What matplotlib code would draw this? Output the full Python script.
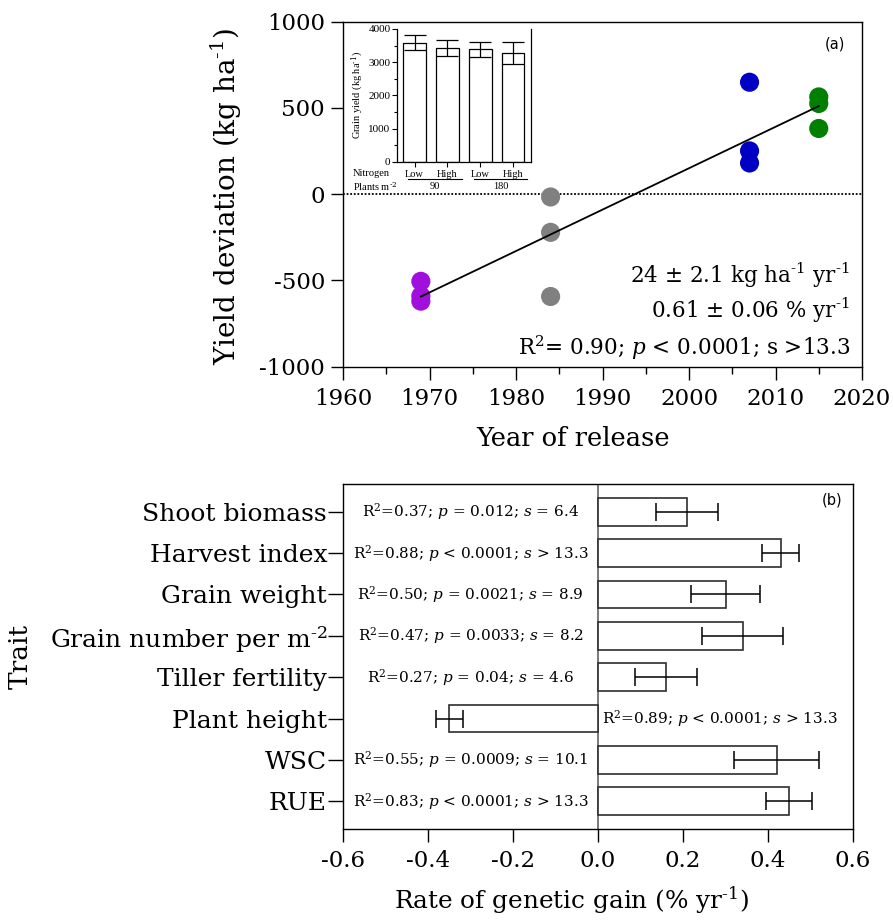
import numpy as np
import matplotlib
matplotlib.use("Agg")
import matplotlib.pyplot as plt
import matplotlib.transforms as mtransforms
from matplotlib.ticker import MultipleLocator

plt.rcParams['font.family'] = ['DejaVu Serif']
plt.rcParams['mathtext.fontset'] = 'dejavuserif'
plt.rcParams['axes.unicode_minus'] = False

# ---------------- data: panel (a) ----------------
purple_year = [1969, 1969, 1969]
purple_dev = [-505, -590, -620]
gray_year = [1984, 1984, 1984]
gray_dev = [-16, -221, -593]
blue_year = [2007, 2007, 2007]
blue_dev = [649, 251, 181]
green_year = [2015, 2015, 2015]
green_dev = [564, 526, 381]

# inset
inset_groups = ["Low", "High", "Low", "High"]
inset_yield = [3590, 3425, 3390, 3285]
inset_err = [235, 250, 225, 335]
plant_density = ["90", "180"]

# ---------------- data: panel (b) ----------------
traits = ["Shoot biomass", "Harvest index", "Grain weight", "Grain number per m$^{\\text{-2}}$",
          "Tiller fertility", "Plant height", "WSC", "RUE"]
gain = [0.21, 0.43, 0.30, 0.34, 0.16, -0.35, 0.42, 0.45]
gain_err = [0.073, 0.044, 0.081, 0.095, 0.072, 0.032, 0.100, 0.054]
stats = [r"R$^2$=0.37; $p$ = 0.012; $s$ = 6.4",
         r"R$^2$=0.88; $p$ < 0.0001; $s$ > 13.3",
         r"R$^2$=0.50; $p$ = 0.0021; $s$ = 8.9",
         r"R$^2$=0.47; $p$ = 0.0033; $s$ = 8.2",
         r"R$^2$=0.27; $p$ = 0.04; $s$ = 4.6",
         r"R$^2$=0.89; $p$ < 0.0001; $s$ > 13.3",
         r"R$^2$=0.55; $p$ = 0.0009; $s$ = 10.1",
         r"R$^2$=0.83; $p$ < 0.0001; $s$ > 13.3"]

W, H = 893, 923
fig = plt.figure(figsize=(W / 100, H / 100), dpi=100)

# ================= panel (a) =================
axa = fig.add_axes([343 / W, 1 - 366.7 / H, 519 / W, 345 / H])
axa.axhline(0, color='black', lw=1.3, ls=(0, (1, 1)), zorder=1)
ms = 190
for xs, ys, c in [(purple_year, purple_dev, '#A10FDD'), (gray_year, gray_dev, '#808080'),
                  (blue_year, blue_dev, '#0000C4'), (green_year, green_dev, '#007F00')]:
    axa.scatter(xs, ys, s=ms, color=c, edgecolors='none', zorder=3)

all_x = np.array(purple_year + gray_year + blue_year + green_year, dtype=float)
all_y = np.array(purple_dev + gray_dev + blue_dev + green_dev, dtype=float)
slope, icpt = np.polyfit(all_x, all_y, 1)
xl = np.array([all_x.min(), all_x.max()])
axa.plot(xl, slope * xl + icpt, color='black', lw=1.3, zorder=4)

axa.set_xlim(1960, 2020)
axa.set_ylim(-1000, 1000)
axa.xaxis.set_major_locator(MultipleLocator(10))
axa.xaxis.set_minor_locator(MultipleLocator(5))
axa.yaxis.set_major_locator(MultipleLocator(500))
axa.tick_params(axis='both', which='major', direction='out', length=9, width=1, labelsize=16.5)
axa.tick_params(axis='x', which='major', pad=6.5)
axa.tick_params(axis='y', which='major', pad=4)
axa.tick_params(axis='x', which='minor', direction='out', length=5, width=1)
for s in axa.spines.values():
    s.set_linewidth(1)
axa.set_xlabel("Year of release", fontsize=18.5)
axa.set_ylabel("Yield deviation (kg ha$^{\\text{-1}}$)", fontsize=20)
axa.xaxis.set_label_coords(0.443, -0.172)
axa.yaxis.set_label_coords(-0.19, 0.495)

axa.text(0.977, 0.243, "24 ± 2.1 kg ha$^{\\text{-1}}$ yr$^{\\text{-1}}$", transform=axa.transAxes,
         ha='right', va='baseline', fontsize=15.5)
axa.text(0.977, 0.141, "0.61 ± 0.06 % yr$^{\\text{-1}}$", transform=axa.transAxes,
         ha='right', va='baseline', fontsize=15.5)
axa.text(0.977, 0.034, "R$^2$= 0.90; $p$ < 0.0001; s >13.3", transform=axa.transAxes,
         ha='right', va='baseline', fontsize=15.5)
axa.text(0.948, 0.936, "(a)", transform=axa.transAxes, ha='center', va='center',
         fontsize=10.5, family='DejaVu Sans')

# ---------------- inset ----------------
ins = fig.add_axes([397 / W, 1 - 161.7 / H, 134 / W, 132.7 / H])
ipos = np.arange(len(inset_yield))
ins.bar(ipos, inset_yield, width=0.69, color='white', edgecolor='black', lw=0.9, zorder=2)
ins.errorbar(ipos, inset_yield, yerr=inset_err, fmt='none', ecolor='black', elinewidth=0.9,
             capsize=8, capthick=0.9, zorder=3)
ins.set_xlim(-0.536, 3.545)
ins.set_ylim(0, 4000)
ins.yaxis.set_major_locator(MultipleLocator(1000))
ins.yaxis.set_minor_locator(MultipleLocator(500))
ins.set_xticks(ipos)
ins.set_xticklabels([])
ins.tick_params(axis='both', which='major', direction='out', length=3.5, width=0.8,
                labelsize=8, pad=1.2)
ins.tick_params(axis='y', which='minor', direction='out', length=2, width=0.8)
for lab in ins.get_yticklabels():
    lab.set_family('Liberation Serif')
ins.spines['top'].set_visible(False)
for s in ['left', 'bottom', 'right']:
    ins.spines[s].set_linewidth(0.9)
ins.set_ylabel("Grain yield (kg ha$^{\\text{-1}}$)", fontsize=7.5, family='Liberation Serif', labelpad=1.5)
trans = mtransforms.blended_transform_factory(ins.transData, ins.transAxes)
for i, g in enumerate(inset_groups):
    ins.text(ipos[i], -0.093, g, transform=trans, ha='center', va='center',
             fontsize=7.5, family='Liberation Serif')
for k, d in enumerate(plant_density):
    x0, x1 = ipos[2 * k] - 0.2, ipos[2 * k + 1] + 0.43
    ins.plot([x0, x1], [-0.133, -0.133], transform=trans, color='black', lw=0.8, clip_on=False)
    ins.text((x0 + x1) / 2, -0.19, d, transform=trans, ha='center', va='center',
             fontsize=7.5, family='Liberation Serif')
fig.text(352.7 / W, 1 - 174 / H, "Nitrogen", ha='left', va='center', fontsize=7.5,
         family='Liberation Serif')
fig.text(352.7 / W, 1 - 186.7 / H, "Plants m$^{\\text{-2}}$", ha='left', va='center', fontsize=7.5,
         family='Liberation Serif')

# ================= panel (b) =================
axb = fig.add_axes([343 / W, 1 - 829 / H, 510 / W, 345 / H])
ypos = np.arange(len(traits))
axb.barh(ypos, gain, height=0.67, color='white', edgecolor='#2e2e2e', lw=1.2, zorder=2)
axb.errorbar(gain, ypos, xerr=gain_err, fmt='none', ecolor='black', elinewidth=1.1,
             capsize=6.5, capthick=1.1, zorder=3)
axb.axvline(0, color='#555555', lw=1.1, zorder=1)
axb.set_xlim(-0.6, 0.6)
axb.set_ylim(len(traits) - 0.33, -0.67)
axb.set_yticks(ypos)
axb.set_yticklabels(traits, fontsize=18)
axb.xaxis.set_major_locator(MultipleLocator(0.2))
axb.xaxis.set_major_formatter(matplotlib.ticker.FuncFormatter(lambda v, p: f"{v:.1f}".replace("-0.0", "0.0")))
axb.tick_params(axis='x', which='major', direction='out', length=9.6, width=1, labelsize=16.5, pad=5.5)
axb.tick_params(axis='y', which='major', direction='out', length=10.5, width=1, pad=1)
for s in axb.spines.values():
    s.set_linewidth(1)
axb.set_xlabel("Rate of genetic gain (% yr$^{\\text{-1}}$)", fontsize=17.8)
axb.xaxis.set_label_coords(0.448, -0.162)
axb.set_ylabel("Trait", fontsize=19)
axb.yaxis.set_label_coords(-0.608, 0.5)

for i, t in enumerate(stats):
    xt = 0.287 if gain[i] < 0 else -0.30
    axb.text(xt, ypos[i], t, ha='center', va='center', fontsize=11)
axb.text(0.959, 0.954, "(b)", transform=axb.transAxes, ha='center', va='center',
         fontsize=10.5, family='DejaVu Sans')

fig.savefig("out.png", dpi=100)
